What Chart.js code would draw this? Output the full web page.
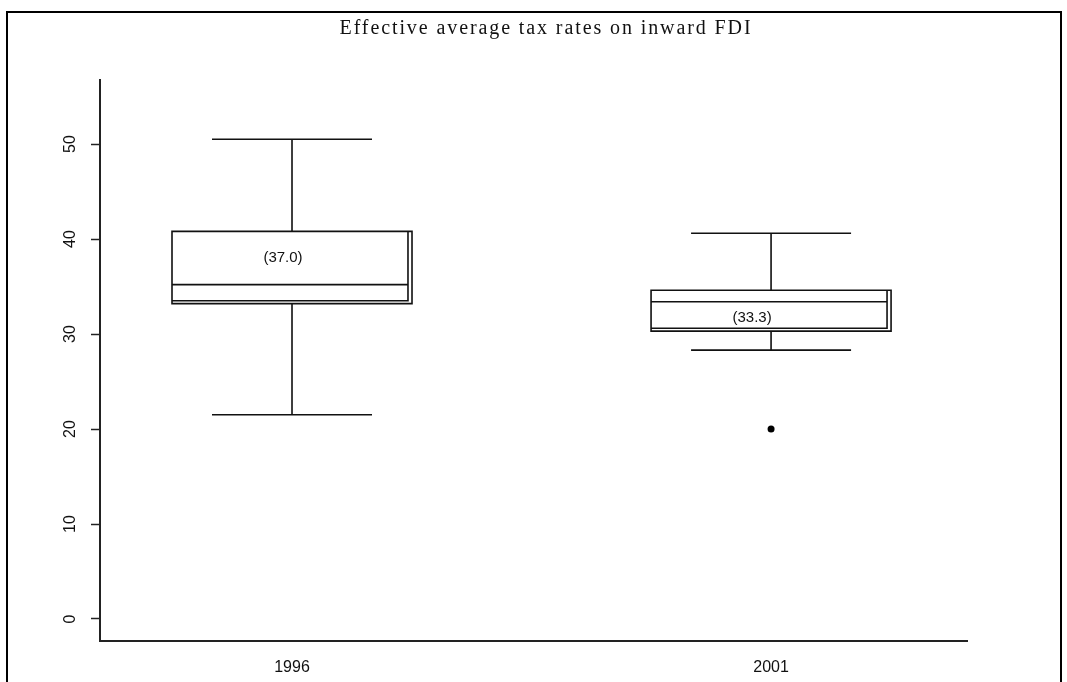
<!DOCTYPE html>
<html><head><meta charset="utf-8">
<script src="https://cdn.jsdelivr.net/npm/chart.js@4.4.1/dist/chart.umd.min.js"></script>
<style>html,body{margin:0;padding:0;background:#fff;overflow:hidden}#wrap{width:1067px;height:682px;position:relative}canvas{display:block}</style>
</head><body><div id="wrap"><canvas id="c" width="1067" height="682"></canvas></div>
<script>
// ---- data ----
const chartTitle = 'Effective average tax rates on inward FDI';
const categories = ['1996', '2001'];
const whiskerLow = [21.5, 28.3];
const q1 = [33.5, 30.6];
const q1Outer = [33.2, 30.3];
const median = [35.2, 33.4];
const q3 = [40.8, 34.6];
const whiskerHigh = [50.5, 40.6];
const means = [37.0, 33.3];
const outliers = [[], [20.0]];
const yTicks = [0, 10, 20, 30, 40, 50];

// ---- style ----
const INK = '#111';
const LW = 1.6;
const BOX_HALF = 0.2505;
const BOX_INNER_GAP = 0.0084;
const CAP_HALF = 0.167;
const MEAN_LABEL_DX = [-9, -19];
const MEAN_LABEL_DY = [-9.5, 15.5];

const boxPlugin = {
  id: 'boxes',
  beforeDraw(chart) {
    const ctx = chart.ctx;
    ctx.save();
    ctx.fillStyle = '#fff';
    ctx.fillRect(0, 0, chart.width, chart.height);
    ctx.strokeStyle = '#000';
    ctx.lineWidth = 2;
    ctx.beginPath();
    ctx.moveTo(7, 690);
    ctx.lineTo(7, 12);
    ctx.lineTo(1061, 12);
    ctx.lineTo(1061, 690);
    ctx.stroke();
    // title
    ctx.fillStyle = INK;
    ctx.font = '20px "Liberation Serif", "Times New Roman", serif';
    ctx.letterSpacing = '1.9px';
    ctx.textAlign = 'center';
    ctx.textBaseline = 'middle';
    ctx.fillText(chartTitle, 546, 29);
    ctx.restore();
  },
  afterDatasetsDraw(chart) {
    const {ctx, scales: {x, y}} = chart;
    ctx.save();
    ctx.strokeStyle = INK;
    ctx.lineWidth = LW;
    categories.forEach((c, i) => {
      const cx = x.getPixelForValue(i);
      const xl = x.getPixelForValue(i - BOX_HALF);
      const xr = x.getPixelForValue(i + BOX_HALF);
      const xri = x.getPixelForValue(i + BOX_HALF - BOX_INNER_GAP);
      const cl = x.getPixelForValue(i - CAP_HALF);
      const cr = x.getPixelForValue(i + CAP_HALF);
      const yq3 = y.getPixelForValue(q3[i]);
      const yq1 = y.getPixelForValue(q1[i]);
      const yq1o = y.getPixelForValue(q1Outer[i]);
      const ym = y.getPixelForValue(median[i]);
      const yh = y.getPixelForValue(whiskerHigh[i]);
      const yl = y.getPixelForValue(whiskerLow[i]);
      ctx.beginPath();
      ctx.rect(xl, yq3, xr - xl, yq1o - yq3);
      ctx.rect(xl, yq3, xri - xl, yq1 - yq3);
      ctx.moveTo(xl, ym); ctx.lineTo(xri, ym);
      ctx.moveTo(cx, yq3); ctx.lineTo(cx, yh);
      ctx.moveTo(cl, yh); ctx.lineTo(cr, yh);
      ctx.moveTo(cx, yq1o); ctx.lineTo(cx, yl);
      ctx.moveTo(cl, yl); ctx.lineTo(cr, yl);
      ctx.stroke();
      // mean label
      ctx.fillStyle = INK;
      ctx.font = '15px "Liberation Sans", Arial, sans-serif';
      ctx.textAlign = 'center';
      ctx.textBaseline = 'middle';
      ctx.fillText('(' + means[i].toFixed(1) + ')', cx + MEAN_LABEL_DX[i], y.getPixelForValue(means[i]) + MEAN_LABEL_DY[i]);
    });
    ctx.restore();
  }
};

const outlierPoints = outliers.flatMap((arr, i) => arr.map(v => ({x: i, y: v})));

new Chart(document.getElementById('c'), {
  type: 'scatter',
  data: {
    datasets: [{
      label: 'outliers',
      data: outlierPoints,
      pointRadius: 3.5,
      pointBackgroundColor: '#000',
      pointBorderColor: '#000',
      pointBorderWidth: 0
    }]
  },
  options: {
    responsive: false,
    animation: false,
    devicePixelRatio: 1,
    layout: {padding: {top: 80, right: 100, left: 0, bottom: 0}},
    plugins: {legend: {display: false}, tooltip: {enabled: false}, title: {display: false}},
    scales: {
      x: {
        type: 'linear',
        min: -0.4008,
        max: 1.409,
        afterBuildTicks: s => { s.ticks = categories.map((c, i) => ({value: i})); },
        afterFit: s => { s.height = 41; },
        grid: {display: false},
        border: {display: true, color: '#222', width: 2},
        ticks: {
          callback: v => categories[v],
          color: INK,
          padding: 9,
          maxRotation: 0,
          font: {family: '"Liberation Sans", Arial, sans-serif', size: 16}
        }
      },
      y: {
        type: 'linear',
        min: -2.316,
        max: 56.74,
        afterBuildTicks: s => { s.ticks = yTicks.map(v => ({value: v})); },
        afterFit: s => { s.width = 100; },
        grid: {drawOnChartArea: false, drawTicks: true, tickLength: 9, tickColor: '#222', tickWidth: 1.5},
        border: {display: true, color: '#222', width: 2},
        ticks: {
          color: INK,
          minRotation: 90,
          maxRotation: 90,
          crossAlign: 'center',
          padding: 12,
          font: {family: '"Liberation Sans", Arial, sans-serif', size: 16}
        }
      }
    }
  },
  plugins: [boxPlugin]
});
</script>
</body></html>
